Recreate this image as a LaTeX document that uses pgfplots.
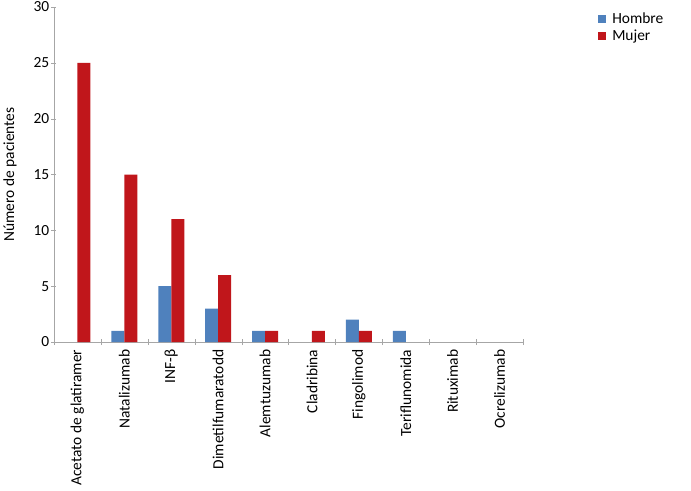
\documentclass[border=0pt]{standalone}
\usepackage{fontspec}
\setmainfont{Carlito}
\usepackage{pgfplots}
\pgfplotsset{compat=1.18}
\definecolor{hombre}{HTML}{4F81BD}
\definecolor{mujer}{HTML}{C0161B}
\definecolor{axgray}{HTML}{A6A6A6}
\begin{document}
\begin{tikzpicture}
\useasboundingbox (-54bp,-149bp) rectangle (637bp,342bp);
\begin{axis}[
  at={(0,0)}, anchor=south west,
  scale only axis, width=469bp, height=335bp,
  ybar=0pt, bar width=13bp,
  xmin=-0.5, xmax=9.5, ymin=0, ymax=30,
  ytick={0,5,...,30},
  xtick={0,...,9},
  xticklabels={Acetato de glatiramer,Natalizumab,INF-β,Dimetilfumaratodd,Alemtuzumab,Cladribina,Fingolimod,Teriflunomida,Rituximab,Ocrelizumab},
  minor xtick={-0.5,0.5,...,9.5},
  major x tick style={draw=none},
  tick align=outside,
  tick style={axgray},
  major tick length=5bp, minor tick length=6bp,
  axis x line=bottom, axis y line=left,
  axis line style={axgray,-},
  x tick label style={rotate=90, anchor=east, inner sep=1bp, xshift=-4bp},
  y tick label style={inner sep=2bp},
  tick label style={font=\fontsize{15.5}{18}\selectfont, black},
  /pgf/number format/assume math mode=true,
  ylabel={Número de pacientes},
  every axis y label/.style={at={(axis description cs:-0.094,0.5)}, rotate=90, anchor=center, font=\fontsize{15.5}{18}\selectfont},
  legend cell align=left,
  legend style={at={(1.16,0.99)}, anchor=north west, draw=none, font=\fontsize{15.5}{18}\selectfont, row sep=1bp, inner sep=0pt, nodes={inner xsep=6bp}},
  legend image code/.code={\fill[#1] (0bp,-4bp) rectangle (8bp,4bp);},
]
\addplot[fill=hombre, draw=none] coordinates {(1,1) (2,5) (3,3) (4,1) (6,2) (7,1)};
\addplot[fill=mujer, draw=none] coordinates {(0,25) (1,15) (2,11) (3,6) (4,1) (5,1) (6,1)};
\legend{Hombre, Mujer}
\end{axis}
\end{tikzpicture}
\end{document}
